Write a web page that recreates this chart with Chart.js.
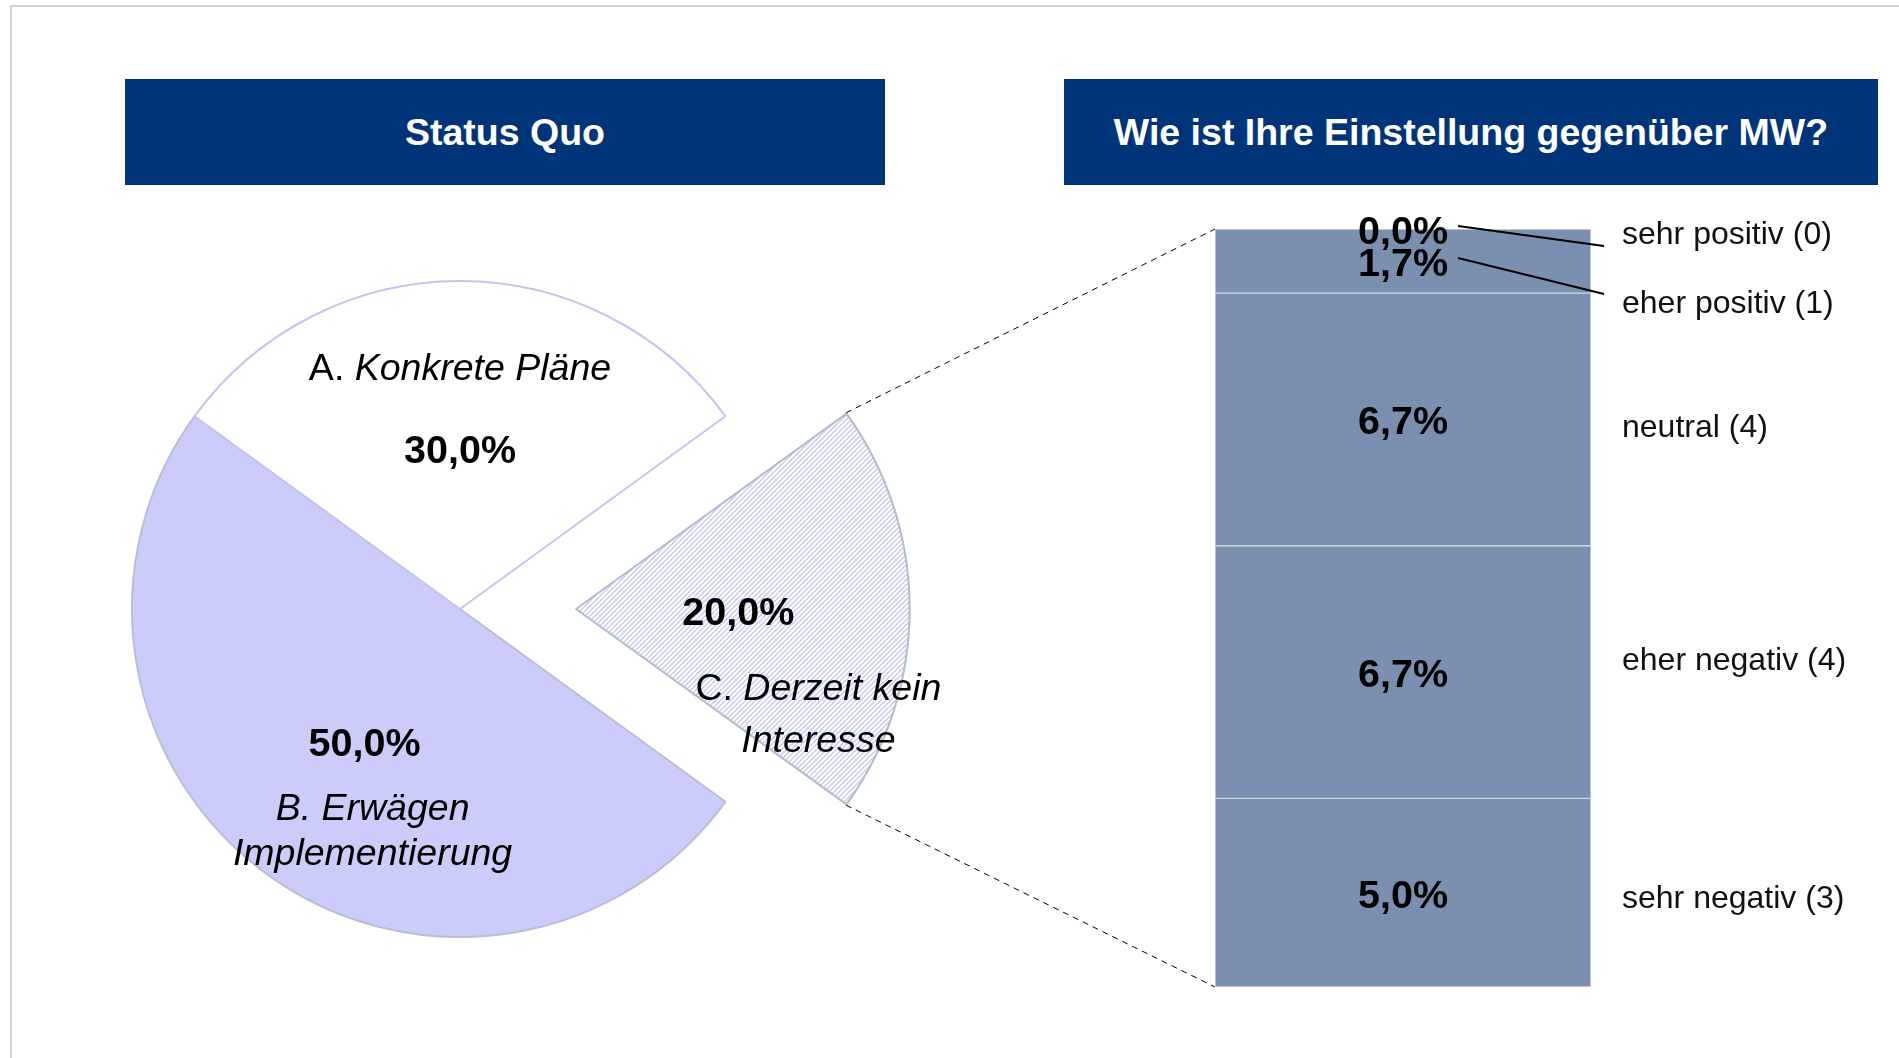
<!DOCTYPE html>
<html lang="de">
<head>
<meta charset="utf-8">
<title>Status Quo / Einstellung gegenüber MW</title>
<script src="https://cdn.jsdelivr.net/npm/chart.js@4.4.1/dist/chart.umd.min.js"></script>
<style>
  html, body { margin: 0; padding: 0; background: #fff; }
  body { width: 1899px; height: 1058px; position: relative; overflow: hidden; font-family: 'Liberation Sans', Arial, sans-serif; }
  .frame-top { position: absolute; left: 10px; top: 5px; right: 0; height: 2px; background: #cdd4dd; }
  .frame-left { position: absolute; left: 10px; top: 5px; bottom: 0; width: 2px; background: #cdd4dd; }
  .head { position: absolute; top: 79px; height: 106px; line-height: 106px; background: #003478; color: #fff; font-weight: bold; font-size: 37.5px; text-align: center; }
  #head-left { left: 125px; width: 760px; }
  #head-right { left: 1064px; width: 814px; }
  #pie-box { position: absolute; left: 0; top: 0; width: 1230px; height: 1058px; }
  #bar-box { position: absolute; left: 1100px; top: 190px; width: 799px; height: 840px; }
</style>
</head>
<body>
<div class="frame-top"></div>
<div class="frame-left"></div>
<div class="head" id="head-left">Status Quo</div>
<div class="head" id="head-right">Wie ist Ihre Einstellung gegenüber MW?</div>
<div id="pie-box"><canvas id="pie"></canvas></div>
<div id="bar-box"><canvas id="bar"></canvas></div>

<script>
// left pie: status quo
const pieCategories = ['A. Konkrete Pläne', 'B. Erwägen Implementierung', 'C. Derzeit kein Interesse'];
const pieShares = [30.0, 50.0, 20.0];

// right bar: split of C by attitude (top to bottom)
const attitudeCategories = ['sehr positiv (0)', 'eher positiv (1)', 'neutral (4)', 'eher negativ (4)', 'sehr negativ (3)'];
const attitudeShares = [0.0, 1.7, 6.7, 6.7, 5.0];

const FONT = '"Liberation Sans", Arial, sans-serif';
const fmt = v => v.toFixed(1).replace('.', ',') + '%';

// diagonal hatch for the exploded slice
const hatch = (() => {
  const s = 5;
  const c = document.createElement('canvas');
  c.width = c.height = s;
  const g = c.getContext('2d');
  g.fillStyle = '#fff';
  g.fillRect(0, 0, s, s);
  g.strokeStyle = '#c6c6f8';
  g.lineWidth = 1.4;
  g.beginPath();
  g.moveTo(-1, s + 1); g.lineTo(s + 1, -1);
  g.moveTo(-s, s); g.lineTo(s, -s);
  g.moveTo(0, 2 * s); g.lineTo(2 * s, 0);
  g.stroke();
  return g.createPattern(c, 'repeat');
})();

const pieFills = ['#ffffff', '#ccccfa', hatch];
const pieBorders = ['#c4c4f4', '#b9bdd6', '#b4bcc6'];
const explodedIndex = 2;

// pie runs clockwise, so draw C, B, A starting at -36deg
const drawOrder = pieCategories.map((_, i) => i).reverse();

// bars stack from the bottom up
const stackOrder = attitudeCategories.map((_, i) => i).reverse();
const attitudeTotal = attitudeShares.reduce((a, b) => a + b, 0);

function wrapWords(ctx, text, maxWidth) {
  const words = text.split(' ');
  const lines = [];
  let cur = '';
  words.forEach(w => {
    const test = cur ? cur + ' ' + w : w;
    if (cur && ctx.measureText(test).width > maxWidth) {
      lines.push(cur);
      cur = w;
    } else {
      cur = test;
    }
  });
  if (cur) lines.push(cur);
  return lines;
}

const barLabelsPlugin = {
  id: 'barLabels',
  afterDatasetsDraw(chart, args, opts) {
    const {ctx, chartArea} = chart;
    ctx.save();
    chart.data.datasets.forEach((ds, d) => {
      const i = stackOrder[d];
      const bar = chart.getDatasetMeta(d).data[0];
      const cx = bar.x;
      const cy = (bar.y + bar.base) / 2;

      ctx.fillStyle = '#000';
      ctx.textAlign = 'center';
      ctx.textBaseline = 'middle';
      ctx.font = 'bold 39.5px ' + FONT;
      const txt = fmt(attitudeShares[i]);
      const tw = ctx.measureText(txt).width;
      ctx.fillText(txt, cx, cy + 4);

      const lx = chartArea.right + 31;
      const ly = cy + opts.labelShift[i];
      ctx.font = '32px ' + FONT;
      ctx.textAlign = 'left';
      ctx.fillStyle = '#111';
      ctx.fillText(attitudeCategories[i], lx, ly + 2);

      if (Math.abs(bar.base - bar.y) < 70) {
        ctx.strokeStyle = '#000';
        ctx.lineWidth = 2;
        ctx.beginPath();
        ctx.moveTo(cx + tw / 2 + 10, cy - 3);
        ctx.lineTo(lx - 18, ly + (ly - cy > 20 ? -8 : 13));
        ctx.stroke();
      }
    });
    ctx.restore();
  }
};

const barChart = new Chart(document.getElementById('bar'), {
  type: 'bar',
  data: {
    labels: [''],
    datasets: stackOrder.map(i => ({
      label: attitudeCategories[i],
      data: [attitudeShares[i]],
      backgroundColor: '#7b8fb0',
      borderColor: '#d3d9e2',
      borderWidth: 1,
      borderSkipped: false,
      barPercentage: 1,
      categoryPercentage: 1,
    })),
  },
  options: {
    responsive: true,
    maintainAspectRatio: false,
    animation: false,
    events: [],
    layout: {padding: {left: 115, right: 308, top: 39, bottom: 43}},
    scales: {
      x: {stacked: true, display: false},
      y: {stacked: true, display: false, min: 0, max: attitudeTotal},
    },
    plugins: {
      legend: {display: false},
      tooltip: {enabled: false},
      barLabels: {labelShift: [4, 41, 7, -13, 4]},
    },
  },
  plugins: [barLabelsPlugin],
});

const pieLabelsPlugin = {
  id: 'pieLabels',
  afterDatasetsDraw(chart, args, opts) {
    const {ctx} = chart;
    const arcs = chart.getDatasetMeta(0).data;
    ctx.save();
    ctx.fillStyle = '#000';
    ctx.textBaseline = 'middle';
    arcs.forEach((arc, k) => {
      const i = drawOrder[k];
      const mid = (arc.startAngle + arc.endAngle) / 2;
      const push = (arc.options.offset || 0) / 4 + arc.outerRadius * 0.495;
      const vx = arc.x + Math.cos(mid) * push;
      const vy = arc.y + Math.sin(mid) * push;

      ctx.textAlign = 'center';
      ctx.font = 'bold 39.5px ' + FONT;
      ctx.fillText(fmt(pieShares[i]), vx, vy + 5);

      const [dx, dy] = opts.catShift[i];
      const lh = opts.lineHeight[i];
      const italic = 'italic 37.5px ' + FONT;
      const regular = '37.5px ' + FONT;
      ctx.font = italic;
      const lines = wrapWords(ctx, pieCategories[i], 330);
      lines.forEach((line, n) => {
        const y = vy + dy + (n - (lines.length - 1) / 2) * lh;
        const x = vx + dx;
        if (n === 0 && !opts.prefixItalic[i]) {
          const sp = line.indexOf(' ');
          const head = line.slice(0, sp + 1);
          const rest = line.slice(sp + 1);
          ctx.font = regular;
          const hw = ctx.measureText(head).width;
          ctx.font = italic;
          const rw = ctx.measureText(rest).width;
          const x0 = x - (hw + rw) / 2;
          ctx.textAlign = 'left';
          ctx.font = regular;
          ctx.fillText(head, x0, y);
          ctx.font = italic;
          ctx.fillText(rest, x0 + hw, y);
        } else {
          ctx.textAlign = 'center';
          ctx.font = italic;
          ctx.fillText(line, x, y);
        }
      });
    });
    ctx.restore();
  }
};

// dashed lines from the exploded slice to the bar
const zoomLinesPlugin = {
  id: 'zoomLines',
  afterDraw(chart) {
    const {ctx} = chart;
    const arc = chart.getDatasetMeta(0).data[drawOrder.indexOf(explodedIndex)];
    const t = (arc.options.offset || 0) / 4;
    const mid = (arc.startAngle + arc.endAngle) / 2;
    const fix = 1 - Math.sin(Math.min(Math.PI, arc.circumference));
    const R = arc.outerRadius + t * fix;
    const cx = arc.x + Math.cos(mid) * t;
    const cy = arc.y + Math.sin(mid) * t;

    const pieBox = chart.canvas.getBoundingClientRect();
    const barBox = barChart.canvas.getBoundingClientRect();
    const area = barChart.chartArea;
    const bx = barBox.left - pieBox.left + area.left;
    const top = barBox.top - pieBox.top + area.top;
    const bottom = barBox.top - pieBox.top + area.bottom;

    ctx.save();
    ctx.strokeStyle = '#000';
    ctx.lineWidth = 1;
    ctx.setLineDash([6, 5]);
    ctx.beginPath();
    ctx.moveTo(cx + Math.cos(arc.startAngle) * R, cy + Math.sin(arc.startAngle) * R);
    ctx.lineTo(bx, top);
    ctx.moveTo(cx + Math.cos(arc.endAngle) * R, cy + Math.sin(arc.endAngle) * R);
    ctx.lineTo(bx, bottom);
    ctx.stroke();
    ctx.restore();
  }
};

const pieChart = new Chart(document.getElementById('pie'), {
  type: 'pie',
  data: {
    labels: drawOrder.map(i => pieCategories[i]),
    datasets: [{
      data: drawOrder.map(i => pieShares[i]),
      backgroundColor: drawOrder.map(i => pieFills[i]),
      borderColor: drawOrder.map(i => pieBorders[i]),
      borderWidth: 2,
      offset: drawOrder.map(i => (i === explodedIndex ? 464 : 0)),
    }],
  },
  options: {
    responsive: true,
    maintainAspectRatio: false,
    animation: false,
    events: [],
    rotation: 54,
    radius: 328,
    layout: {padding: {left: 100, right: 410, top: 229, bottom: 69}},
    plugins: {
      legend: {display: false},
      tooltip: {enabled: false},
      pieLabels: {
        catShift: [[0, -77], [8, 92], [80, 107]],
        lineHeight: [47, 45, 52],
        prefixItalic: [false, true, false],
      },
    },
  },
  plugins: [pieLabelsPlugin, zoomLinesPlugin],
});
</script>
</body>
</html>
